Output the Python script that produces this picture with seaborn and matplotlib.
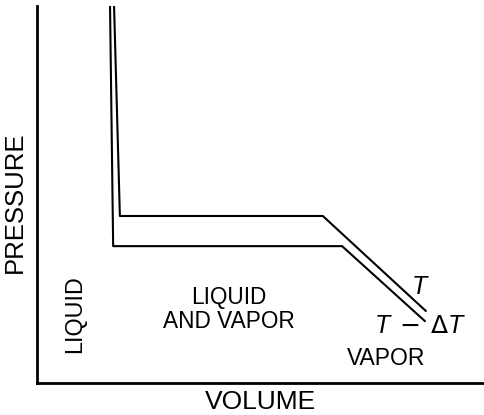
import matplotlib
matplotlib.use("Agg")
import matplotlib.pyplot as plt
import seaborn as sns
import pandas as pd

# Data (arbitrary units: volume 0-100, pressure 0-100)
vol_T = [17.2, 18.5, 63.8, 86.8]
pres_T = [100.0, 44.3, 44.3, 19.1]
vol_TdT = [16.3, 17.0, 68.1, 86.6]
pres_TdT = [100.0, 36.3, 36.3, 16.4]
series_names = ["T", "T - dT"]

sns.set_style("white")
plt.rcParams["font.family"] = ["Liberation Sans", "DejaVu Sans"]
plt.rcParams["mathtext.fontset"] = "custom"
plt.rcParams["mathtext.rm"] = "DejaVu Sans"
plt.rcParams["mathtext.it"] = "Liberation Sans:italic"
plt.rcParams["text.color"] = "black"
plt.rcParams["axes.labelcolor"] = "black"

df = pd.concat([
    pd.DataFrame({"volume": vol_T, "pressure": pres_T, "curve": series_names[0], "order": range(len(vol_T))}),
    pd.DataFrame({"volume": vol_TdT, "pressure": pres_TdT, "curve": series_names[1], "order": range(len(vol_TdT))}),
])

fig = plt.figure(figsize=(4.85, 4.15), dpi=100)
ax = fig.add_axes([37 / 485, 1 - 383 / 415, 1 - 37 / 485, (383 - 6) / 415])

sns.lineplot(data=df, x="volume", y="pressure", hue="curve", units="curve",
             estimator=None, sort=False, palette=["black", "black"],
             linewidth=1.5, legend=False, ax=ax)

ax.set_xlim(0, 100)
ax.set_ylim(0, 100)
ax.set_xticks([])
ax.set_yticks([])
sns.despine(ax=ax, top=True, right=True)
for s in ["left", "bottom"]:
    ax.spines[s].set_linewidth(2.0)
    ax.spines[s].set_color("black")

ax.set_xlabel("VOLUME", fontsize=19)
ax.set_ylabel("PRESSURE", fontsize=18.5)
ax.xaxis.set_label_coords(0.5, -0.018)
ax.yaxis.set_label_coords(-0.022, 0.48)

ax.text(85.5, 25.5, r"$T$", fontsize=18, ha="center", va="center")
ax.text(85.4, 15.1, r"$T\;-\;\Delta T$", fontsize=18, ha="center", va="center")
ax.text(77.9, 6.6, "VAPOR", fontsize=16.5, ha="center", va="center")
ax.text(42.9, 19.4, "LIQUID\nAND VAPOR", fontsize=16.3, ha="center", va="center",
        linespacing=1.05, multialignment="center")
ax.text(8.3, 18.3, "LIQUID", fontsize=16.8, ha="center", va="center", rotation=90)

fig.savefig("out.png", dpi=100)
